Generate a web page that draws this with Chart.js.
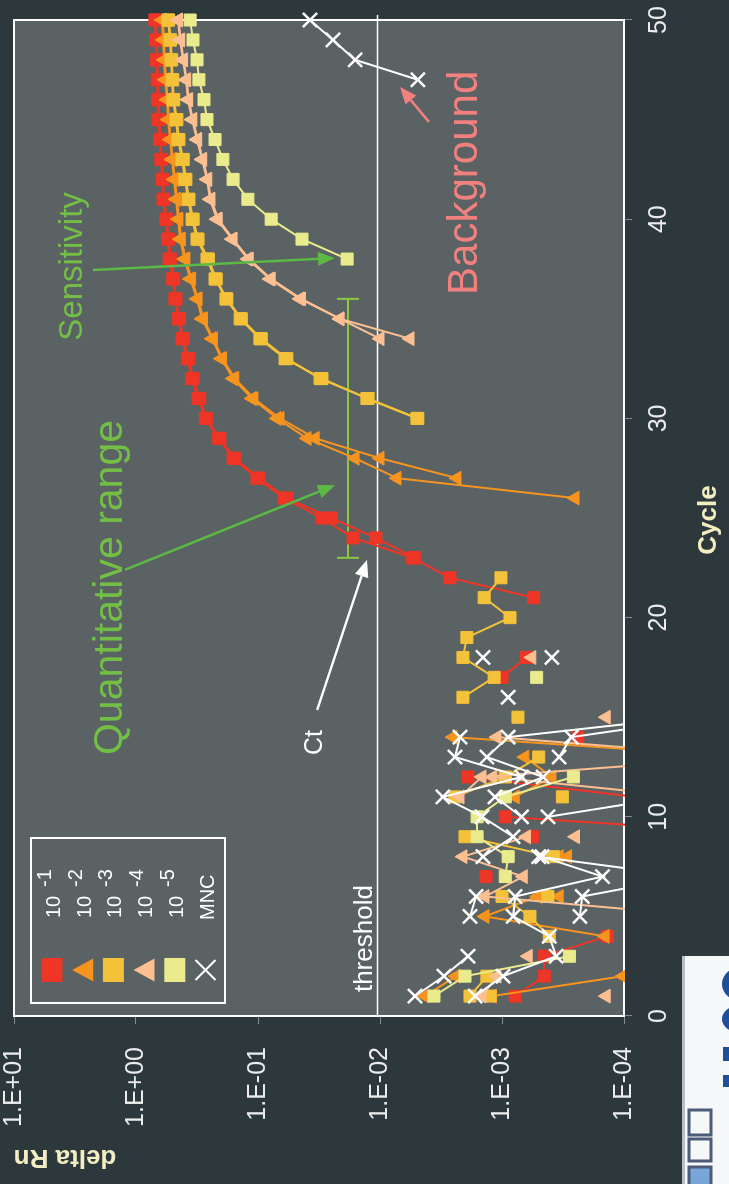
<!DOCTYPE html>
<html>
<head>
<meta charset="utf-8">
<script src="https://cdn.jsdelivr.net/npm/chart.js@4.4.0/dist/chart.umd.min.js"></script>
<style>
  html, body { margin: 0; padding: 0; background: #2c383c; overflow: hidden; width: 729px; height: 1184px; }
  /* the slide is laid out landscape and turned a quarter turn counter-clockwise */
  #wrap { position: absolute; left: 0; top: 0; width: 1184px; height: 729px;
          transform-origin: 0 0; transform: translateY(1184px) rotate(-90deg); }
  canvas { display: block; }
</style>
</head>
<body>
<div id="wrap"><canvas id="amp" width="1184" height="729"></canvas></div>
<script>
// ---- amplification data: delta Rn per cycle (null = no reading) ----
const cycles = [1,2,3,4,5,6,7,8,9,10,11,12,13,14,15,16,17,18,19,20,21,22,23,24,25,26,27,28,29,30,31,32,33,34,35,36,37,38,39,40,41,42,43,44,45,46,47,48,49,50];

const xTickValues = [0, 10, 20, 30, 40, 50];
const yTickValues = [10, 1, 0.1, 0.01, 0.001, 0.0001];
const yTickLabels = ['1.E+01', '1.E+00', '1.E-01', '1.E-02', '1.E-03', '1.E-04'];
const seriesNames = ['10 -1', '10 -2', '10 -3', '10 -4', '10 -5', 'MNC'];

// 10^-1 dilution, two replicates
const dil1a = [0.00078,0.00045,0.00045,0.000137,null,null,0.00135,null,0.00056,null,
  0.00008,0.0019,null,0.00024,null,null,0.001,0.00063,null,null,
  0.00055,0.00267,0.0054,0.0166,0.030,0.061,0.102,0.16,0.21,0.27,
  0.31,0.35,0.38,0.42,0.45,0.48,0.50,0.535,0.55,0.57,
  0.60,0.61,0.625,0.64,0.66,0.665,0.67,0.68,0.69,0.70];
const dil1b = [null,null,null,null,null,null,null,null,0.000003,0.00094,
  null,null,null,null,null,null,null,null,null,null,
  null,null,0.0052,0.0108,0.025,0.058,0.098,0.155,0.205,0.265,
  0.30,0.34,0.37,0.41,0.44,0.47,0.49,0.52,0.54,0.56,
  0.59,0.60,0.615,0.63,0.645,0.655,0.66,0.67,0.68,0.69];

// 10^-2 dilution
const dil2a = [0.00428,0.00238,null,0.000143,0.00138,0.00051,null,0.00034,null,null,
  null,null,0.00001,0.00252,null,null,null,null,null,null,
  null,null,null,null,null,0.000252,0.00726,0.016,0.0396,0.0698,
  0.112,0.16,0.20,0.238,0.288,0.316,0.36,0.40,0.435,0.453,
  0.47,0.489,0.507,0.526,0.547,0.557,0.578,0.589,0.60,0.612];
const dil2b = [0.0012,0.000102,null,null,null,0.00034,null,0.00029,null,null,
  0.00078,0.00039,0.00065,null,null,null,null,null,null,null,
  null,null,null,null,null,null,0.00234,0.0100,0.034,0.066,
  0.108,0.155,0.195,0.232,0.28,0.31,0.35,0.39,0.425,0.445,
  0.462,0.48,0.50,0.518,0.537,0.55,0.568,0.58,0.59,0.60];

// 10^-3 dilution
const dil3a = [0.00183,0.00133,null,0.00041,0.00059,0.001,null,0.00038,0.00201,null,
  0.00243,0.00094,0.0005,null,null,0.00209,0.00116,0.00209,0.00194,0.00086,
  0.0014,0.00102,null,null,null,null,null,null,null,0.00498,
  0.0128,0.0299,0.060,0.0964,0.14,0.183,0.225,0.262,0.316,0.347,
  0.375,0.397,0.42,0.453,0.47,0.498,0.507,0.516,0.526,0.547];
const dil3b = [0.00125,null,null,null,null,0.00042,null,null,null,null,
  0.00032,null,null,null,0.00074,null,null,null,null,null,
  null,null,null,null,null,null,null,null,null,0.0049,
  0.0125,0.031,0.058,0.094,0.137,0.18,0.22,0.255,0.31,0.34,
  0.368,0.39,0.41,0.445,0.462,0.49,0.50,0.51,0.52,0.54];

// 10^-4 dilution
const dil4a = [0.00146,0.0011,null,null,0.00002,0.00138,0.00067,0.00209,0.00063,null,
  0.00221,0.00146,0.00001,0.0011,null,null,null,null,null,null,
  null,null,null,null,null,null,null,null,null,null,
  null,null,null,0.0100,0.0213,0.0453,0.0798,0.121,0.163,0.217,
  0.247,0.262,0.288,0.316,0.347,0.375,0.389,0.412,0.435,0.453];
const dil4b = [0.00014,null,0.00061,null,null,null,null,null,0.00025,null,
  0.00003,0.00119,null,null,0.00014,null,null,0.00057,null,null,
  null,null,null,null,null,null,null,null,null,null,
  null,null,null,0.00568,0.0213,0.044,0.078,0.118,0.16,0.212,
  0.243,0.258,0.284,0.312,0.342,0.37,0.384,0.407,0.43,0.448];

// 10^-5 dilution
const dil5a = [0.00361,0.00201,0.00028,null,null,null,0.00094,0.00089,0.0016,0.0016,
  0.00094,0.00026,null,null,null,null,0.00052,null,null,null,
  null,null,null,null,null,null,null,null,null,null,
  null,null,null,null,null,null,null,0.0186,0.0436,0.078,
  0.121,0.16,0.194,0.225,0.262,0.277,0.305,0.316,0.341,0.36];

// no-template controls
const mncA = [0.00516,0.00299,0.0019,null,0.00183,0.00163,null,0.00143,0.00081,0.00146,
  0.00305,0.00069,0.00243,0.00221,null,0.00089,null,0.00143,null,null,
  null,null,null,null,null,null,null,null,null,null,
  null,null,null,null,null,null,null,null,null,null,
  null,null,null,null,null,null,0.00489,0.016,0.0243,0.0375];
const mncB = [0.00166,0.00098,0.00036,0.00041,0.00081,0.00078,0.00015,0.00047,null,0.00069,
  0.00114,0.00046,0.00133,0.00089,0.00003,null,null,0.00039,null,null,
  null,null,null,null,null,null,null,null,null,null,
  null,null,null,null,null,null,null,null,null,null,
  null,null,null,null,null,null,null,null,null,null];
const mncC = [null,null,null,null,0.00023,0.00022,0.00003,0.0005,null,0.00042,
  0.00004,null,0.00034,0.00027,0.00002,null,null,null,null,null,
  null,null,null,null,null,null,null,null,null,null,
  null,null,null,null,null,null,null,null,null,null,
  null,null,null,null,null,null,null,null,null,null];

// threshold and annotation anchors, in cycle / delta Rn units
const thresholdValue = 0.0105;
const rangeBar = { from: 23.0, to: 36.0, value: 0.0183 };

// ---- appearance ----
const FONT = "'Liberation Sans', Arial, sans-serif";
const looks = [
  { color: '#ee3526', style: 'rect',     r: 8.5 },
  { color: '#f7941e', style: 'triangle', r: 8 },
  { color: '#f3c238', style: 'rect',     r: 8.5 },
  { color: '#fcbf92', style: 'triangle', r: 8 },
  { color: '#e9eb8c', style: 'rect',     r: 8.5 },
  { color: '#ffffff', style: 'crossRot', r: 10 }
];
const GREEN_TEXT = '#73bf45';
const GREEN_ARROW = '#5cb946';
const GREEN_BAR = '#8dc63f';
const PINK = '#f2807f';

function series(data, k, label) {
  const lk = looks[k];
  return {
    label: label,
    data: data,
    borderColor: lk.color,
    backgroundColor: lk.color,
    borderWidth: 2,
    pointStyle: lk.style,
    pointRadius: lk.r,
    pointHoverRadius: lk.r,
    pointBackgroundColor: lk.color,
    pointBorderColor: lk.color,
    pointBorderWidth: lk.style === 'crossRot' ? 2.5 : 1,
    spanGaps: false,
    tension: 0,
    order: 5 - k,
    clip: { left: 2, top: 0, right: 10, bottom: 1 }
  };
}

const datasets = [
  series(dil1a, 0, seriesNames[0]), series(dil1b, 0, seriesNames[0]),
  series(dil2a, 1, seriesNames[1]), series(dil2b, 1, seriesNames[1]),
  series(dil3a, 2, seriesNames[2]), series(dil3b, 2, seriesNames[2]),
  series(dil4a, 3, seriesNames[3]), series(dil4b, 3, seriesNames[3]),
  series(dil5a, 4, seriesNames[4]),
  series(mncA, 5, seriesNames[5]), series(mncB, 5, seriesNames[5]), series(mncC, 5, seriesNames[5])
];

// ---- drawing helpers ----
function drawMarker(ctx, style, x, y, w, h, color) {
  ctx.save();
  ctx.fillStyle = color; ctx.strokeStyle = color;
  if (style === 'rect') {
    ctx.fillRect(x - w / 2, y - h / 2, w, h);
  } else if (style === 'triangle') {
    ctx.beginPath();
    ctx.moveTo(x, y - h / 2);
    ctx.lineTo(x + w / 2, y + h / 2);
    ctx.lineTo(x - w / 2, y + h / 2);
    ctx.closePath(); ctx.fill();
  } else {
    ctx.lineWidth = 2;
    ctx.beginPath();
    ctx.moveTo(x - w / 2, y - h / 2); ctx.lineTo(x + w / 2, y + h / 2);
    ctx.moveTo(x - w / 2, y + h / 2); ctx.lineTo(x + w / 2, y - h / 2);
    ctx.stroke();
  }
  ctx.restore();
}

function drawArrow(ctx, x1, y1, x2, y2, color, width, headLen, headW) {
  const ang = Math.atan2(y2 - y1, x2 - x1);
  const bx = x2 - Math.cos(ang) * headLen, by = y2 - Math.sin(ang) * headLen;
  ctx.save();
  ctx.strokeStyle = color; ctx.fillStyle = color; ctx.lineWidth = width;
  ctx.beginPath(); ctx.moveTo(x1, y1); ctx.lineTo(bx, by); ctx.stroke();
  ctx.beginPath();
  ctx.moveTo(x2, y2);
  ctx.lineTo(bx + Math.sin(ang) * headW / 2, by - Math.cos(ang) * headW / 2);
  ctx.lineTo(bx - Math.sin(ang) * headW / 2, by + Math.cos(ang) * headW / 2);
  ctx.closePath(); ctx.fill();
  ctx.restore();
}

const notes = [
  { text: 'threshold',          cycle: 1.2,  value: 0.0116, color: '#ffffff', size: 26 },
  { text: 'Ct',                 cycle: 13.1, value: 0.0299, color: '#ffffff', size: 25 },
  { text: 'Quantitative range', cycle: 13.1, value: 1.30,   color: GREEN_TEXT, size: 41 },
  { text: 'Sensitivity',        cycle: 33.9, value: 2.77,   color: GREEN_TEXT, size: 33 },
  { text: 'Background',         cycle: 36.2, value: 0.0016, color: PINK,      size: 42 }
];
const arrows = [
  { from: [22.4, 1.23],    to: [26.65, 0.0234], color: GREEN_ARROW },
  { from: [37.45, 2.25],   to: [38.05, 0.0234], color: GREEN_ARROW },
  { from: [15.36, 0.0328], to: [22.9, 0.0128],  color: '#ffffff' },
  { from: [44.88, 0.00396], to: [46.64, 0.00686], color: PINK }
];

const slidePlugin = {
  id: 'slide',
  beforeDraw(chart) {
    const { ctx, chartArea: a } = chart;
    ctx.save();
    ctx.fillStyle = '#2c383c';
    ctx.fillRect(0, 0, chart.width, chart.height);
    ctx.fillStyle = '#5a6264';
    ctx.fillRect(a.left, a.top, a.right - a.left, a.bottom - a.top);
    ctx.restore();
  },
  beforeDatasetsDraw(chart) {
    const { ctx, chartArea: a, scales: { x, y } } = chart;
    ctx.save();
    // plot frame
    ctx.strokeStyle = '#ffffff'; ctx.lineWidth = 2;
    ctx.strokeRect(a.left, a.top, a.right - a.left, a.bottom - a.top);
    // threshold line
    const ty = y.getPixelForValue(thresholdValue);
    ctx.lineWidth = 1.5;
    ctx.beginPath(); ctx.moveTo(a.left, ty); ctx.lineTo(a.right + 5, ty); ctx.stroke();
    // quantitative range bar
    const by = y.getPixelForValue(rangeBar.value);
    const bx1 = x.getPixelForValue(rangeBar.from), bx2 = x.getPixelForValue(rangeBar.to);
    ctx.strokeStyle = GREEN_BAR; ctx.lineWidth = 2;
    ctx.beginPath();
    ctx.moveTo(bx1, by); ctx.lineTo(bx2, by);
    ctx.moveTo(bx1, by - 11); ctx.lineTo(bx1, by + 11);
    ctx.moveTo(bx2, by - 11); ctx.lineTo(bx2, by + 11);
    ctx.stroke();
    ctx.restore();
  },
  afterDatasetsDraw(chart) {
    const { ctx, chartArea: a, scales: { x, y } } = chart;
    ctx.save();
    // arrows and notes
    arrows.forEach(ar => {
      drawArrow(ctx, x.getPixelForValue(ar.from[0]), y.getPixelForValue(ar.from[1]),
                x.getPixelForValue(ar.to[0]), y.getPixelForValue(ar.to[1]), ar.color, 2.5, 17, 14);
    });
    ctx.textAlign = 'left'; ctx.textBaseline = 'alphabetic';
    notes.forEach(n => {
      ctx.font = n.size + 'px ' + FONT;
      ctx.fillStyle = n.color;
      ctx.fillText(n.text, x.getPixelForValue(n.cycle), y.getPixelForValue(n.value));
    });

    // legend box
    const lx = a.left + 13, ly = a.top + 17;
    ctx.strokeStyle = '#ffffff'; ctx.lineWidth = 2;
    ctx.strokeRect(lx, ly, 165, 194);
    seriesNames.forEach((name, i) => {
      const cy = ly + 21 + i * 30.7;
      const lk = looks[i];
      if (lk.style === 'rect') drawMarker(ctx, 'rect', lx + 33, cy, 24, 21, lk.color);
      else if (lk.style === 'triangle') drawMarker(ctx, 'triangle', lx + 33, cy, 23, 21, lk.color);
      else drawMarker(ctx, 'cross', lx + 33, cy, 20, 20, lk.color);
      ctx.fillStyle = '#ffffff';
      ctx.font = '20px ' + FONT;
      const parts = name.split(' ');
      if (parts.length === 2) {
        ctx.fillText(parts[0], lx + 85, cy + 8);
        ctx.fillText(parts[1], lx + 116, cy - 1);
      } else {
        ctx.fillText(name, lx + 83, cy + 8);
      }
    });

    // axis titles
    ctx.fillStyle = '#f3eec2';
    ctx.font = 'bold 26px ' + FONT;
    ctx.textAlign = 'center'; ctx.textBaseline = 'middle';
    ctx.fillText('Cycle', (a.left + a.right) / 2 - 2, 709);
    ctx.save();
    ctx.translate(27, a.top + 51);
    ctx.rotate(-Math.PI / 2);
    ctx.fillText('delta Rn', 0, 0);
    ctx.restore();

    // corner of the presenter's logo panel
    ctx.fillStyle = '#b9bfc4';
    ctx.fillRect(0, 682, 228, 3);
    ctx.fillStyle = '#f5f7f9';
    ctx.fillRect(0, 685, 228, 44);
    ctx.fillStyle = '#1d4f9a';
    ctx.beginPath(); ctx.ellipse(200, 741, 17, 19, 0, 0, Math.PI * 2); ctx.fill();
    ctx.beginPath(); ctx.ellipse(165, 741, 14, 19, 0, 0, Math.PI * 2); ctx.fill();
    ctx.fillRect(97, 723, 12, 8);
    ctx.fillRect(123, 723, 14, 8);
    ctx.strokeStyle = '#4d5b78'; ctx.lineWidth = 3;
    ctx.strokeRect(49, 689, 25, 22);
    ctx.strokeRect(23, 689, 22, 22);
    ctx.fillStyle = '#79a6d8';
    ctx.fillRect(0, 689, 17, 22);
    ctx.strokeRect(-2, 689, 19, 22);
    ctx.restore();
  }
};

new Chart(document.getElementById('amp'), {
  type: 'line',
  data: { labels: cycles, datasets: datasets },
  options: {
    responsive: false,
    devicePixelRatio: 1,
    animation: false,
    events: [],
    layout: { padding: { top: 14, right: 20, left: 0, bottom: 0 } },
    plugins: { legend: { display: false }, tooltip: { enabled: false } },
    scales: {
      x: {
        type: 'linear', position: 'bottom', min: 0, max: 50,
        afterBuildTicks: s => { s.ticks = xTickValues.map(v => ({ value: v })); },
        afterFit: s => { s.height = 105; s.paddingLeft = 0; s.paddingRight = 0; },
        ticks: { color: '#ececec', font: { family: FONT, size: 25 }, padding: 12, maxRotation: 0 },
        grid: { drawOnChartArea: false, drawTicks: true, tickLength: 8, color: '#838c8e' },
        border: { display: false }
      },
      y: {
        type: 'logarithmic', position: 'left', min: 0.0001, max: 10,
        afterBuildTicks: s => { s.ticks = yTickValues.map(v => ({ value: v })); },
        afterFit: s => { s.width = 168; s.paddingTop = 0; s.paddingBottom = 0; },
        ticks: {
          color: '#ececec', font: { family: FONT, size: 25 }, padding: 23,
          callback: (v, i) => yTickLabels[i]
        },
        grid: { drawOnChartArea: false, drawTicks: true, tickLength: 8, color: '#838c8e' },
        border: { display: false }
      }
    }
  },
  plugins: [slidePlugin]
});
</script>
</body>
</html>
